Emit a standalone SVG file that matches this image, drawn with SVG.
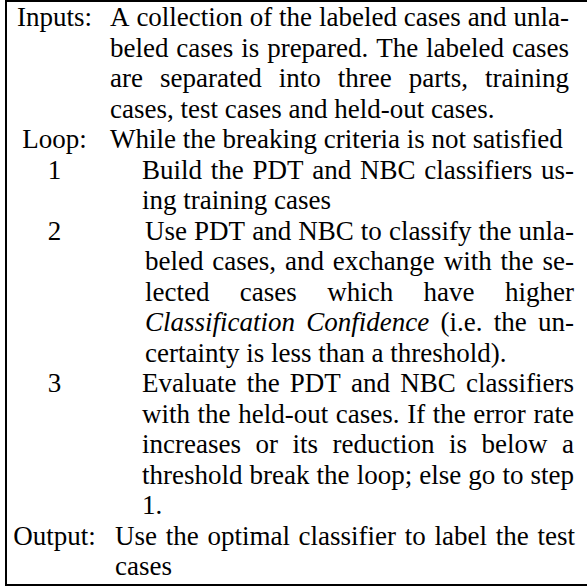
<svg xmlns="http://www.w3.org/2000/svg" width="587" height="586" viewBox="0 0 587 586">
  <style>
    text { font-family: "Liberation Serif", "Times New Roman", serif; font-size: 27px; fill: #000; font-kerning: none; font-variant-ligatures: none; }
    .lab { text-anchor: middle; }
    .it { font-style: italic; }
    .frame { stroke: #000; stroke-width: 2; fill: none; }
  </style>
  <rect width="587" height="586" fill="#fff"/>
  <!-- box frame: top, left and bottom rules -->
  <g id="frame">
    <line class="frame" x1="5" y1="1" x2="587" y2="1"/>
    <line class="frame" x1="6" y1="0" x2="6" y2="586"/>
    <line class="frame" x1="5" y1="585" x2="587" y2="585"/>
  </g>

  <g id="inputs">
    <text class="lab" x="54.5" y="26">Inputs:</text>
    <text x="110" y="26" word-spacing="0.13">A collection of the labeled cases and unla-</text>
    <text x="110" y="56.5" word-spacing="1.15">beled cases is prepared. The labeled cases</text>
    <text x="110" y="87" word-spacing="10.22">are separated into three parts, training</text>
    <text x="110" y="117.5">cases, test cases and held-out cases.</text>
  </g>

  <g id="loop">
    <text class="lab" x="54.5" y="148">Loop:</text>
    <text x="110" y="148">While the breaking criteria is not satisfied</text>
  </g>

  <g id="step1">
    <text class="lab" x="54.5" y="178.5">1</text>
    <text x="142" y="178.5" word-spacing="2.0">Build the PDT and NBC classifiers us-</text>
    <text x="142" y="209">ing training cases</text>
  </g>

  <g id="step2">
    <text class="lab" x="54.5" y="239.5">2</text>
    <text x="145" y="239.5" word-spacing="0.33">Use PDT and NBC to classify the unla-</text>
    <text x="145" y="270" word-spacing="2.15">beled cases, and exchange with the se-</text>
    <text x="145" y="300.5" word-spacing="23.65">lected cases which have higher</text>
    <text x="145" y="331" word-spacing="4.5"><tspan class="it">Classification Confidence</tspan> (i.e. the un-</text>
    <text x="145" y="361.5">certainty is less than a threshold).</text>
  </g>

  <g id="step3">
    <text class="lab" x="54.5" y="392">3</text>
    <text x="142" y="392" word-spacing="3.46">Evaluate the PDT and NBC classifiers</text>
    <text x="142" y="422.5" word-spacing="0.87">with the held-out cases. If the error rate</text>
    <text x="142" y="453" word-spacing="7.77">increases or its reduction is below a</text>
    <text x="142" y="483.5" word-spacing="0.33">threshold break the loop; else go to step</text>
    <text x="142" y="514">1.</text>
  </g>

  <g id="output">
    <text class="lab" x="54.5" y="544.5">Output:</text>
    <text x="115" y="544.5" word-spacing="1.97">Use the optimal classifier to label the test</text>
    <text x="115" y="575">cases</text>
  </g>
</svg>
